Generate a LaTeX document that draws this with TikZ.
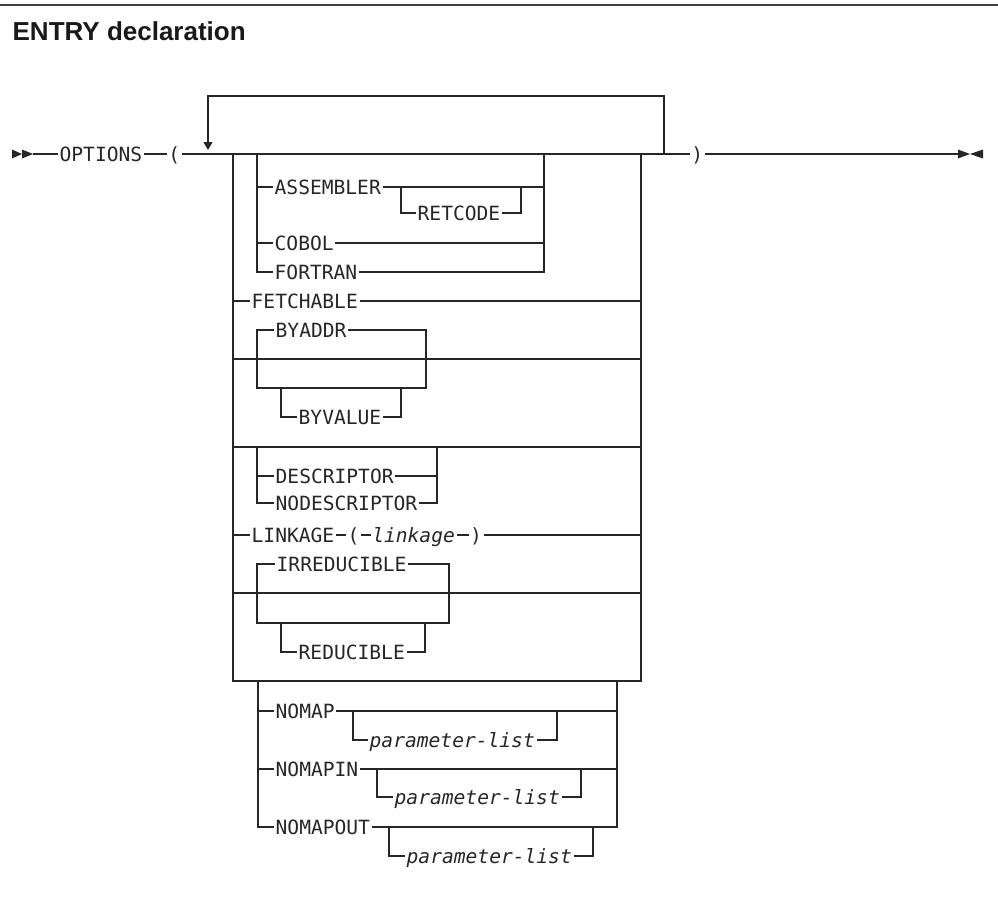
\documentclass[tikz,border=0pt]{standalone}
\usepackage{fontspec}
\newfontfamily\railfont{DejaVu Sans Mono}
\newfontfamily\headfont{Liberation Sans}
\usetikzlibrary{arrows.meta,positioning}

\begin{document}
\begin{tikzpicture}[x=1pt, y=-1pt, line width=1.3pt, draw=black!85,
  kw/.style={anchor=west, inner xsep=1pt, inner ysep=0pt, text height=14.3pt, text depth=0pt,
    text=black!85, font={\railfont\fontsize{19.6pt}{22pt}\selectfont}},
  var/.style={kw, font={\railfont\itshape\fontsize{19.6pt}{22pt}\selectfont}},
  tipmark/.style={fill=black!85, draw=none}]
\useasboundingbox (0,0) rectangle (998,922);
% heading
\draw[line width=1.5pt, black!75] (0,5) -- (998,5);
\node[anchor=base west, inner sep=0pt, text=black!90, font={\headfont\bfseries\fontsize{26pt}{30pt}\selectfont}] (title) at (12,40) {ENTRY declaration};
% main line
\node[kw] (opt) at (58,154) {OPTIONS};
\node[kw] (lpar) at (166.6,154) {(};
\node[kw] (rpar) at (689.6,154) {)};
\fill[tipmark] (12,149.5) -- (22,154) -- (12,158.5) -- cycle;
\fill[tipmark] (22,149.5) -- (33,154) -- (22,158.5) -- cycle;
\draw (33,154) -- (opt.west);
\draw (opt.east) -- (lpar.west);
\draw (lpar.east) -- (rpar.west);
\draw (rpar.east) -- (958,154);
\fill[tipmark] (958,149.5) -- (970,154) -- (958,158.5) -- cycle;
\fill[tipmark] (983,149.5) -- (970,154) -- (983,158.5) -- cycle;
% repeat loop
\draw[-{Triangle[length=8pt,width=9pt]}] (664,154) |- (208,96) -- (208,150);
% big choice box
\draw (233,154) -- (233,681) -- (641,681) -- (641,154);
\foreach \y in {359,447,593}
  \draw (233,\y) -- (641,\y);
% ASSEMBLER / COBOL / FORTRAN
\node[kw] (asm) at (273,187) {ASSEMBLER};
\node[kw] (ret) at (416,213) {RETCODE};
\node[kw] (cob) at (273,243) {COBOL};
\node[kw] (fort) at (273,272) {FORTRAN};
\draw (257,154) |- (fort.west);
\draw (257,187) -- (asm.west);
\draw (257,243) -- (cob.west);
\draw (asm.east) -- (544,187);
\draw (cob.east) -- (544,243);
\draw (fort.east) -| (544,154);
\draw (401,187) |- (ret.west);
\draw (ret.east) -| (521,187);
% FETCHABLE
\node[kw] (fetch) at (250,301) {FETCHABLE};
\draw (233,301) -- (fetch.west);
\draw (fetch.east) -- (641,301);
% BYADDR / BYVALUE
\node[kw] (byaddr) at (274,330) {BYADDR};
\node[kw] (byval) at (297,417) {BYVALUE};
\draw (byaddr.west) -| (257,388) -- (426,388) |- (byaddr.east);
\draw (281,388) |- (byval.west);
\draw (byval.east) -| (401,388);
% DESCRIPTOR / NODESCRIPTOR
\node[kw] (desc) at (274,476) {DESCRIPTOR};
\node[kw] (nodesc) at (274,503) {NODESCRIPTOR};
\draw (257,447) |- (nodesc.west);
\draw (257,476) -- (desc.west);
\draw (desc.east) -- (437,476);
\draw (nodesc.east) -| (437,447);
% LINKAGE
\node[kw] (link) at (250,535) {LINKAGE};
\node[kw, right=10pt of link] (lp2) {(};
\node[var, right=9.6pt of lp2] (lkv) {linkage};
\node[kw, right=12pt of lkv] (rp2) {)};
\draw (233,535) -- (link.west);
\draw (link) -- (lp2);
\draw (lp2) -- (lkv);
\draw (lkv) -- (rp2);
\draw (rp2.east) -- (641,535);
% IRREDUCIBLE / REDUCIBLE
\node[kw] (irr) at (275,564) {IRREDUCIBLE};
\node[kw] (red) at (297,652) {REDUCIBLE};
\draw (irr.west) -| (257,623) -- (449,623) |- (irr.east);
\draw (281,623) |- (red.west);
\draw (red.east) -| (425,623);
% NOMAP group
\node[kw] (nomap) at (274,711) {NOMAP};
\node[kw] (nomapin) at (274,769) {NOMAPIN};
\node[kw] (nomapout) at (274,827) {NOMAPOUT};
\node[var] (plista) at (368,740) {parameter-list};
\node[var] (plistb) at (393,797) {parameter-list};
\node[var] (plistc) at (405,856) {parameter-list};
\draw (258,681) |- (nomapout.west);
\draw (258,711) -- (nomap.west);
\draw (258,769) -- (nomapin.west);
\draw (nomap.east) -- (617,711);
\draw (nomapin.east) -- (617,769);
\draw (nomapout.east) -| (617,681);
\draw (353,711) |- (plista.west);
\draw (plista.east) -| (557,711);
\draw (377,769) |- (plistb.west);
\draw (plistb.east) -| (581,769);
\draw (389,827) |- (plistc.west);
\draw (plistc.east) -| (593,827);
\end{tikzpicture}
\end{document}
